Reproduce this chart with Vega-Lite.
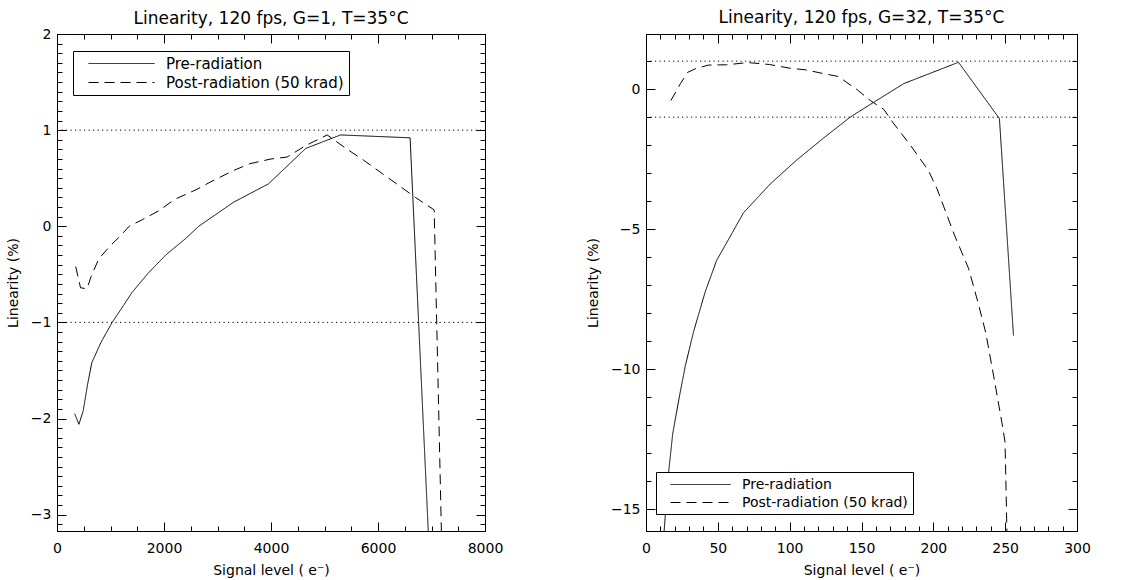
{
  "$schema": "https://vega.github.io/schema/vega-lite/v6.json",
  "padding": {"left": 5, "top": 8, "right": 50, "bottom": 5},
  "background": "white",
  "config": {
    "font": "DejaVu Sans",
    "view": {"stroke": "black", "strokeWidth": 1},
    "axis": {"grid": false, "domainColor": "black", "tickColor": "black", "labelColor": "black", "titleColor": "black", "labelFontSize": 14, "titleFontSize": 14, "titleFontWeight": "normal", "labelFlush": false, "labelOverlap": false, "labelBound": false, "tickWidth": 1, "domainWidth": 1},
    "title": {"fontSize": 17, "fontWeight": "normal", "color": "black"},
    "legend": {"orient": "none", "title": null, "strokeColor": "black", "fillColor": "white", "padding": 4.5, "symbolStrokeWidth": 1, "symbolStrokeColor": "black", "symbolSize": 225, "rowPadding": 3, "labelColor": "black", "labelLimit": 400}
  },
  "datasets": {
    "left": [
      {"series": "Pre-radiation", "signal": 330, "linearity": -1.95},
      {"series": "Pre-radiation", "signal": 410, "linearity": -2.06},
      {"series": "Pre-radiation", "signal": 490, "linearity": -1.92},
      {"series": "Pre-radiation", "signal": 570, "linearity": -1.65},
      {"series": "Pre-radiation", "signal": 650, "linearity": -1.42},
      {"series": "Pre-radiation", "signal": 820, "linearity": -1.21},
      {"series": "Pre-radiation", "signal": 1030, "linearity": -1.0},
      {"series": "Pre-radiation", "signal": 1200, "linearity": -0.86},
      {"series": "Pre-radiation", "signal": 1400, "linearity": -0.69},
      {"series": "Pre-radiation", "signal": 1700, "linearity": -0.49},
      {"series": "Pre-radiation", "signal": 2050, "linearity": -0.29},
      {"series": "Pre-radiation", "signal": 2400, "linearity": -0.13},
      {"series": "Pre-radiation", "signal": 2650, "linearity": 0.0},
      {"series": "Pre-radiation", "signal": 3300, "linearity": 0.25},
      {"series": "Pre-radiation", "signal": 3950, "linearity": 0.44},
      {"series": "Pre-radiation", "signal": 4650, "linearity": 0.81},
      {"series": "Pre-radiation", "signal": 5300, "linearity": 0.95},
      {"series": "Pre-radiation", "signal": 6600, "linearity": 0.92},
      {"series": "Pre-radiation", "signal": 6950, "linearity": -3.3},
      {"series": "Post-radiation (50 krad)", "signal": 350, "linearity": -0.42},
      {"series": "Post-radiation (50 krad)", "signal": 440, "linearity": -0.64},
      {"series": "Post-radiation (50 krad)", "signal": 560, "linearity": -0.65},
      {"series": "Post-radiation (50 krad)", "signal": 640, "linearity": -0.52},
      {"series": "Post-radiation (50 krad)", "signal": 780, "linearity": -0.34},
      {"series": "Post-radiation (50 krad)", "signal": 1000, "linearity": -0.2},
      {"series": "Post-radiation (50 krad)", "signal": 1150, "linearity": -0.12},
      {"series": "Post-radiation (50 krad)", "signal": 1350, "linearity": 0.0},
      {"series": "Post-radiation (50 krad)", "signal": 1600, "linearity": 0.07},
      {"series": "Post-radiation (50 krad)", "signal": 1900, "linearity": 0.16},
      {"series": "Post-radiation (50 krad)", "signal": 2200, "linearity": 0.28},
      {"series": "Post-radiation (50 krad)", "signal": 2600, "linearity": 0.38},
      {"series": "Post-radiation (50 krad)", "signal": 2900, "linearity": 0.47},
      {"series": "Post-radiation (50 krad)", "signal": 3300, "linearity": 0.58},
      {"series": "Post-radiation (50 krad)", "signal": 3600, "linearity": 0.65},
      {"series": "Post-radiation (50 krad)", "signal": 4000, "linearity": 0.7},
      {"series": "Post-radiation (50 krad)", "signal": 4300, "linearity": 0.72},
      {"series": "Post-radiation (50 krad)", "signal": 4650, "linearity": 0.84},
      {"series": "Post-radiation (50 krad)", "signal": 5050, "linearity": 0.95},
      {"series": "Post-radiation (50 krad)", "signal": 5400, "linearity": 0.81},
      {"series": "Post-radiation (50 krad)", "signal": 5750, "linearity": 0.68},
      {"series": "Post-radiation (50 krad)", "signal": 6100, "linearity": 0.54},
      {"series": "Post-radiation (50 krad)", "signal": 6450, "linearity": 0.4},
      {"series": "Post-radiation (50 krad)", "signal": 6700, "linearity": 0.3},
      {"series": "Post-radiation (50 krad)", "signal": 7050, "linearity": 0.17},
      {"series": "Post-radiation (50 krad)", "signal": 7190, "linearity": -3.3}
    ],
    "right": [
      {"series": "Pre-radiation", "signal": 12.3, "linearity": -16.0},
      {"series": "Pre-radiation", "signal": 15.5, "linearity": -13.8},
      {"series": "Pre-radiation", "signal": 18.6, "linearity": -12.3},
      {"series": "Pre-radiation", "signal": 23.6, "linearity": -10.88},
      {"series": "Pre-radiation", "signal": 27.3, "linearity": -9.9},
      {"series": "Pre-radiation", "signal": 33, "linearity": -8.68},
      {"series": "Pre-radiation", "signal": 41.2, "linearity": -7.24},
      {"series": "Pre-radiation", "signal": 49.2, "linearity": -6.11},
      {"series": "Pre-radiation", "signal": 58.5, "linearity": -5.27},
      {"series": "Pre-radiation", "signal": 67.8, "linearity": -4.42},
      {"series": "Pre-radiation", "signal": 86.4, "linearity": -3.39},
      {"series": "Pre-radiation", "signal": 104.9, "linearity": -2.53},
      {"series": "Pre-radiation", "signal": 123.5, "linearity": -1.75},
      {"series": "Pre-radiation", "signal": 142.1, "linearity": -1.0},
      {"series": "Pre-radiation", "signal": 160, "linearity": -0.42},
      {"series": "Pre-radiation", "signal": 179.5, "linearity": 0.2},
      {"series": "Pre-radiation", "signal": 217.5, "linearity": 0.96},
      {"series": "Pre-radiation", "signal": 246, "linearity": -1.05},
      {"series": "Pre-radiation", "signal": 255.8, "linearity": -8.8},
      {"series": "Post-radiation (50 krad)", "signal": 17.3, "linearity": -0.41},
      {"series": "Post-radiation (50 krad)", "signal": 24, "linearity": 0.2},
      {"series": "Post-radiation (50 krad)", "signal": 29, "linearity": 0.6},
      {"series": "Post-radiation (50 krad)", "signal": 34, "linearity": 0.72},
      {"series": "Post-radiation (50 krad)", "signal": 43.4, "linearity": 0.86},
      {"series": "Post-radiation (50 krad)", "signal": 56, "linearity": 0.87},
      {"series": "Post-radiation (50 krad)", "signal": 71, "linearity": 0.95},
      {"series": "Post-radiation (50 krad)", "signal": 86, "linearity": 0.88},
      {"series": "Post-radiation (50 krad)", "signal": 100, "linearity": 0.75},
      {"series": "Post-radiation (50 krad)", "signal": 111, "linearity": 0.69},
      {"series": "Post-radiation (50 krad)", "signal": 125, "linearity": 0.54},
      {"series": "Post-radiation (50 krad)", "signal": 134, "linearity": 0.45},
      {"series": "Post-radiation (50 krad)", "signal": 143, "linearity": 0.12},
      {"series": "Post-radiation (50 krad)", "signal": 147, "linearity": -0.02},
      {"series": "Post-radiation (50 krad)", "signal": 156, "linearity": -0.4},
      {"series": "Post-radiation (50 krad)", "signal": 165.5, "linearity": -0.72},
      {"series": "Post-radiation (50 krad)", "signal": 172, "linearity": -1.2},
      {"series": "Post-radiation (50 krad)", "signal": 184, "linearity": -2.0},
      {"series": "Post-radiation (50 krad)", "signal": 196.5, "linearity": -2.9},
      {"series": "Post-radiation (50 krad)", "signal": 202.5, "linearity": -3.55},
      {"series": "Post-radiation (50 krad)", "signal": 215, "linearity": -5.25},
      {"series": "Post-radiation (50 krad)", "signal": 224.5, "linearity": -6.4},
      {"series": "Post-radiation (50 krad)", "signal": 231, "linearity": -7.6},
      {"series": "Post-radiation (50 krad)", "signal": 236.5, "linearity": -8.7},
      {"series": "Post-radiation (50 krad)", "signal": 242, "linearity": -10.25},
      {"series": "Post-radiation (50 krad)", "signal": 247.7, "linearity": -11.9},
      {"series": "Post-radiation (50 krad)", "signal": 249.9, "linearity": -12.6},
      {"series": "Post-radiation (50 krad)", "signal": 250.5, "linearity": -14.0},
      {"series": "Post-radiation (50 krad)", "signal": 251.2, "linearity": -15.8}
    ],
    "leftRef": [{"level": 1, "from": 0, "to": 8000}, {"level": -1, "from": 0, "to": 8000}],
    "rightRef": [{"level": 1, "from": 0, "to": 300}, {"level": -1, "from": 0, "to": 300}]
  },
  "resolve": {"scale": {"strokeDash": "independent"}, "legend": {"strokeDash": "independent"}},
  "spacing": 161,
  "bounds": "flush",
  "hconcat": [
    {
      "width": 428,
      "height": 497,
      "title": {"text": "Linearity, 120 fps, G=1, T=35°C", "offset": -1},
      "resolve": {"axis": {"x": "independent", "y": "independent"}},
      "layer": [
        {
          "data": {"name": "leftRef"},
          "mark": {"type": "rule", "color": "black", "strokeWidth": 1, "strokeDash": [1.2, 3.3], "clip": true},
          "encoding": {
            "x": {"field": "from", "type": "quantitative", "scale": {"domain": [0, 8000], "nice": false, "zero": false},
              "axis": {"orient": "top", "title": null, "labels": false, "values": [0,500,1000,1500,2000,2500,3000,3500,4000,4500,5000,5500,6000,6500,7000,7500,8000],
                "tickSize": {"condition": {"test": "datum.value % 2000 === 0", "value": -9}, "value": -5}}},
            "x2": {"field": "to"},
            "y": {"field": "level", "type": "quantitative", "scale": {"domain": [-3.17, 2], "nice": false, "zero": false},
              "axis": {"orient": "right", "title": null, "labels": false, "values": [-3.1,-3,-2.9,-2.8,-2.7,-2.6,-2.5,-2.4,-2.3,-2.2,-2.1,-2,-1.9,-1.8,-1.7,-1.6,-1.5,-1.4,-1.3,-1.2,-1.1,-1,-0.9,-0.8,-0.7,-0.6,-0.5,-0.4,-0.3,-0.2,-0.1,0,0.1,0.2,0.3,0.4,0.5,0.6,0.7,0.8,0.9,1,1.1,1.2,1.3,1.4,1.5,1.6,1.7,1.8,1.9,2],
                "tickSize": {"condition": {"test": "abs(datum.value - round(datum.value)) < 0.001", "value": -9}, "value": -5}}}
          }
        },
        {
          "data": {"name": "left"},
          "mark": {"type": "line", "color": "black", "strokeWidth": 1, "clip": true},
          "encoding": {
            "x": {"field": "signal", "type": "quantitative", "scale": {"domain": [0, 8000], "nice": false, "zero": false},
              "axis": {"orient": "bottom", "title": "Signal level ( e⁻)", "titlePadding": 4, "labelPadding": 19, "values": [0,500,1000,1500,2000,2500,3000,3500,4000,4500,5000,5500,6000,6500,7000,7500,8000],
                "labelExpr": "datum.value % 2000 === 0 ? format(datum.value, 'd') : ''",
                "tickSize": {"condition": {"test": "datum.value % 2000 === 0", "value": -9}, "value": -5}}},
            "y": {"field": "linearity", "type": "quantitative", "scale": {"domain": [-3.17, 2], "nice": false, "zero": false},
              "axis": {"orient": "left", "title": "Linearity (%)", "titlePadding": 10, "labelPadding": 15, "values": [-3.1,-3,-2.9,-2.8,-2.7,-2.6,-2.5,-2.4,-2.3,-2.2,-2.1,-2,-1.9,-1.8,-1.7,-1.6,-1.5,-1.4,-1.3,-1.2,-1.1,-1,-0.9,-0.8,-0.7,-0.6,-0.5,-0.4,-0.3,-0.2,-0.1,0,0.1,0.2,0.3,0.4,0.5,0.6,0.7,0.8,0.9,1,1.1,1.2,1.3,1.4,1.5,1.6,1.7,1.8,1.9,2],
                "labelExpr": "abs(datum.value - round(datum.value)) < 0.001 ? format(datum.value, 'd') : ''",
                "tickSize": {"condition": {"test": "abs(datum.value - round(datum.value)) < 0.001", "value": -9}, "value": -5}}},
            "strokeDash": {"field": "series", "type": "nominal",
              "scale": {"domain": ["Pre-radiation", "Post-radiation (50 krad)"], "range": [[1, 0], [10, 6]]},
              "legend": {"legendX": 16, "legendY": 17, "symbolType": "M0.4,0H9.2", "labelOffset": 72.5, "labelFontSize": 15}}
          }
        }
      ]
    },
    {
      "width": 431,
      "height": 497,
      "title": {"text": "Linearity, 120 fps, G=32, T=35°C", "offset": 7},
      "resolve": {"axis": {"x": "independent", "y": "independent"}},
      "layer": [
        {
          "data": {"name": "rightRef"},
          "mark": {"type": "rule", "color": "black", "strokeWidth": 1, "strokeDash": [1.2, 3.3], "clip": true},
          "encoding": {
            "x": {"field": "from", "type": "quantitative", "scale": {"domain": [0, 300], "nice": false, "zero": false},
              "axis": {"orient": "top", "title": null, "labels": false, "values": [0,10,20,30,40,50,60,70,80,90,100,110,120,130,140,150,160,170,180,190,200,210,220,230,240,250,260,270,280,290,300],
                "tickSize": {"condition": {"test": "datum.value % 50 === 0", "value": -9}, "value": -5}}},
            "x2": {"field": "to"},
            "y": {"field": "level", "type": "quantitative", "scale": {"domain": [-15.78, 1.97], "nice": false, "zero": false},
              "axis": {"orient": "right", "title": null, "labels": false, "values": [-15,-14,-13,-12,-11,-10,-9,-8,-7,-6,-5,-4,-3,-2,-1,0,1],
                "tickSize": {"condition": {"test": "datum.value % 5 === 0", "value": -9}, "value": -5}}}
          }
        },
        {
          "data": {"name": "right"},
          "mark": {"type": "line", "color": "black", "strokeWidth": 1, "clip": true},
          "encoding": {
            "x": {"field": "signal", "type": "quantitative", "scale": {"domain": [0, 300], "nice": false, "zero": false},
              "axis": {"orient": "bottom", "title": "Signal level ( e⁻)", "titlePadding": 4, "labelPadding": 19, "values": [0,10,20,30,40,50,60,70,80,90,100,110,120,130,140,150,160,170,180,190,200,210,220,230,240,250,260,270,280,290,300],
                "labelExpr": "datum.value % 50 === 0 ? format(datum.value, 'd') : ''",
                "tickSize": {"condition": {"test": "datum.value % 50 === 0", "value": -9}, "value": -5}}},
            "y": {"field": "linearity", "type": "quantitative", "scale": {"domain": [-15.78, 1.97], "nice": false, "zero": false},
              "axis": {"orient": "left", "title": "Linearity (%)", "titlePadding": 10, "labelPadding": 15, "values": [-15,-14,-13,-12,-11,-10,-9,-8,-7,-6,-5,-4,-3,-2,-1,0,1],
                "labelExpr": "datum.value % 5 === 0 ? format(datum.value, 'd') : ''",
                "tickSize": {"condition": {"test": "datum.value % 5 === 0", "value": -9}, "value": -5}}},
            "strokeDash": {"field": "series", "type": "nominal",
              "scale": {"domain": ["Pre-radiation", "Post-radiation (50 krad)"], "range": [[1, 0], [10, 6]]},
              "legend": {"legendX": 10, "legendY": 438, "symbolType": "M0.267,0H8.267", "labelOffset": 65.5, "labelFontSize": 14}}
          }
        }
      ]
    }
  ]
}
